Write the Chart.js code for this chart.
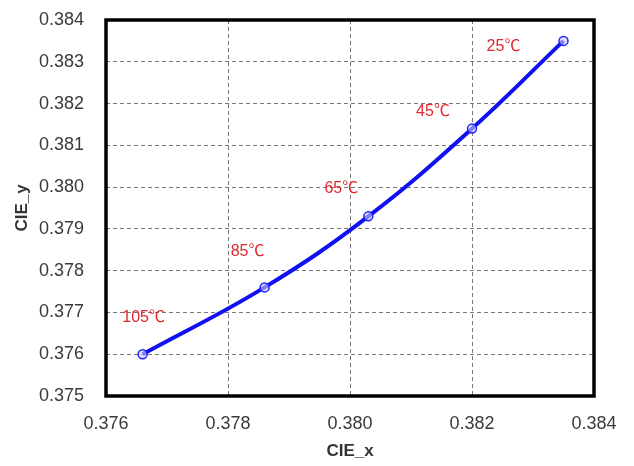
<!DOCTYPE html>
<html>
<head>
<meta charset="utf-8">
<script src="https://cdn.jsdelivr.net/npm/chart.js@4.4.1/dist/chart.umd.min.js"></script>
<style>
    html, body { margin: 0; padding: 0; background: #ffffff; }
    #wrap { width: 634px; height: 466px; }
</style>
</head>
<body>
<div id="wrap"><canvas id="cie-chart" width="634" height="466"></canvas></div>
<script>
// CIE coordinates at each temperature
const temperatures = ['105℃', '85℃', '65℃', '45℃', '25℃'];
const cieX = [0.3766, 0.3786, 0.3803, 0.3820, 0.3835];
const cieY = [0.3760, 0.3776, 0.3793, 0.3814, 0.3835];

const xTicks = [0.376, 0.378, 0.380, 0.382, 0.384];
const yTicks = [0.375, 0.376, 0.377, 0.378, 0.379, 0.380, 0.381, 0.382, 0.383, 0.384];

// label offsets from their points (px)
const labelOffsets = [[1, -37], [-17, -36], [-27, -28], [-39, -17], [-60, 6]];

const tickFont = { family: '"Liberation Sans", Arial, sans-serif', size: 18 };

// black frame round the plot area
const framePlugin = {
    id: 'frame',
    afterDraw(chart) {
        const { ctx, chartArea } = chart;
        ctx.save();
        ctx.strokeStyle = '#000';
        ctx.lineWidth = 3.5;
        ctx.strokeRect(chartArea.left, chartArea.top,
            chartArea.right - chartArea.left, chartArea.bottom - chartArea.top);
        ctx.restore();
    }
};

// temperature labels beside the points
const tempLabels = {
    id: 'tempLabels',
    afterDatasetsDraw(chart) {
        const { ctx, scales } = chart;
        ctx.save();
        ctx.fillStyle = '#e0282e';
        ctx.font = '16px "Liberation Sans", "Noto Sans CJK SC", sans-serif';
        ctx.textAlign = 'center';
        ctx.textBaseline = 'middle';
        temperatures.forEach((t, i) => {
            const px = scales.x.getPixelForValue(cieX[i]);
            const py = scales.y.getPixelForValue(cieY[i]);
            ctx.fillText(t, px + labelOffsets[i][0], py + labelOffsets[i][1]);
        });
        ctx.restore();
    }
};

const ctx = document.getElementById('cie-chart').getContext('2d');
new Chart(ctx, {
    type: 'scatter',
    data: {
        datasets: [{
            data: cieX.map((x, i) => ({ x: x, y: cieY[i] })),
            showLine: true,
            borderColor: '#1010f0',
            borderWidth: 4,
            tension: 0.4,
            pointRadius: 4.5,
            pointBorderWidth: 1.5,
            pointBorderColor: '#2020ff',
            pointBackgroundColor: 'rgba(200,200,255,0.6)'
        }]
    },
    options: {
        responsive: false,
        animation: false,
        layout: { padding: { top: 20, right: 40, left: 0, bottom: 0 } },
        plugins: {
            legend: { display: false },
            tooltip: { enabled: false }
        },
        scales: {
            x: {
                type: 'linear',
                min: 0.376,
                max: 0.384,
                afterBuildTicks: s => { s.ticks = xTicks.map(v => ({ value: v })); },
                afterFit: s => { s.height = 70; s.paddingLeft = 0; s.paddingRight = 0; },
                ticks: {
                    color: '#3a3a3a',
                    font: tickFont,
                    padding: 17,
                    callback: v => v.toFixed(3)
                },
                grid: {
                    color: '#777',
                    lineWidth: 1,
                    drawTicks: false
                },
                border: { display: false, dash: [4, 3] },
                title: {
                    display: true,
                    text: 'CIE_x',
                    color: '#333',
                    font: { family: '"Liberation Sans", Arial, sans-serif', size: 17, weight: 'bold' },
                    padding: { top: 0, bottom: 4 }
                }
            },
            y: {
                type: 'linear',
                min: 0.375,
                max: 0.384,
                afterBuildTicks: s => { s.ticks = yTicks.map(v => ({ value: v })); },
                afterFit: s => { s.width = 106; s.paddingTop = 0; s.paddingBottom = 0; },
                ticks: {
                    color: '#3a3a3a',
                    font: tickFont,
                    padding: 22,
                    callback: v => v.toFixed(3)
                },
                grid: {
                    color: '#777',
                    lineWidth: 1,
                    drawTicks: false
                },
                border: { display: false, dash: [4, 3] },
                title: {
                    display: true,
                    text: 'CIE_y',
                    color: '#333',
                    font: { family: '"Liberation Sans", Arial, sans-serif', size: 17, weight: 'bold' },
                    padding: { top: 12, bottom: 0 }
                }
            }
        }
    },
    plugins: [framePlugin, tempLabels]
});
</script>
</body>
</html>
